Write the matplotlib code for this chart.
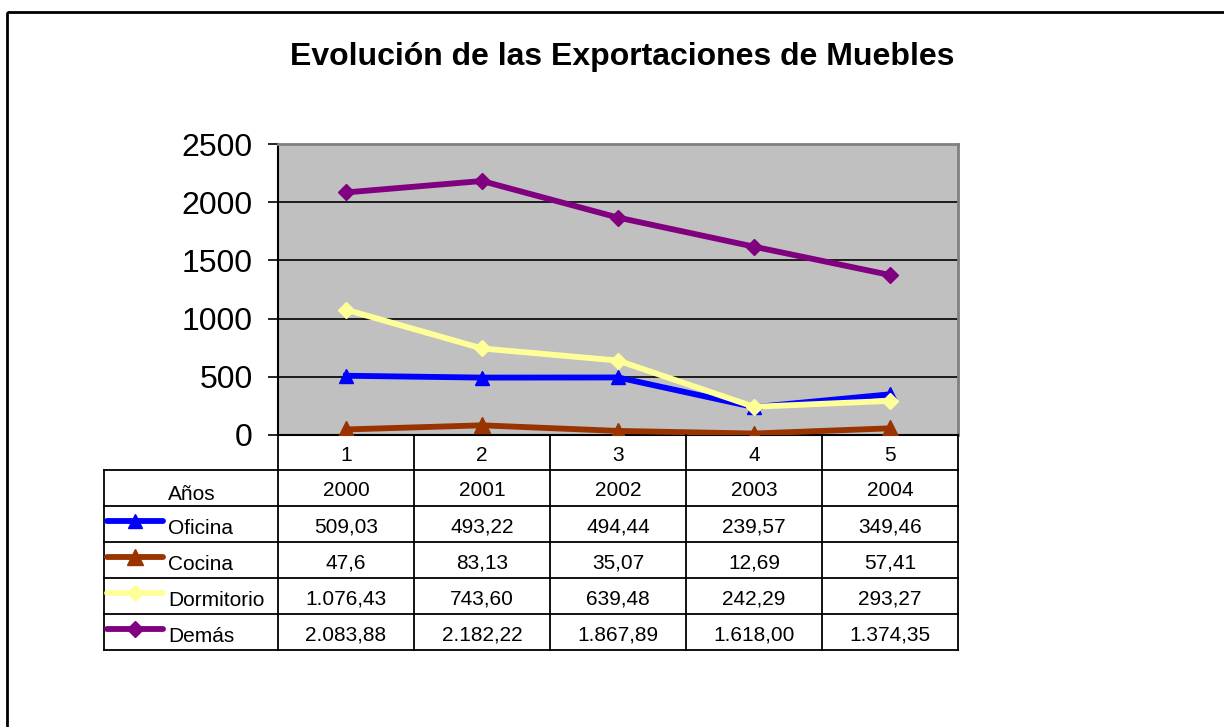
import matplotlib
matplotlib.use('Agg')
import matplotlib.pyplot as plt
from matplotlib.patches import Rectangle

plt.rcParams['font.family'] = ['Liberation Sans', 'DejaVu Sans']

# ── DATA
categories = [1, 2, 3, 4, 5]
years = ['2000', '2001', '2002', '2003', '2004']
series_names = ['Oficina', 'Cocina', 'Dormitorio', 'Demás']
oficina = [509.03, 493.22, 494.44, 239.57, 349.46]
cocina = [47.6, 83.13, 35.07, 12.69, 57.41]
dormitorio = [1076.43, 743.60, 639.48, 242.29, 293.27]
demas = [2083.88, 2182.22, 1867.89, 1618.00, 1374.35]
y_ticks = [0, 500, 1000, 1500, 2000, 2500]

series = [oficina, cocina, dormitorio, demas]
colors = ['#0000FF', '#993300', '#FFFF99', '#800080']
markers = ['^', '^', 'D', 'D']
msizes = [10, 12, 8, 8]


def fmt(v):
    # spanish number format as in the excel table
    if v == round(v, 1) and v < 100 and v != round(v):
        s = f"{v:.1f}"
    else:
        s = f"{v:,.2f}"
    return s.replace(',', 'X').replace('.', ',').replace('X', '.')


W, H = 1224, 727
fig = plt.figure(figsize=(W / 100, H / 100), dpi=100)

# plot area in pixels
L, R, T, B = 278, 958, 144, 435
ax = fig.add_axes([L / W, 1 - B / H, (R - L) / W, (B - T) / H])
ax.set_facecolor('#C0C0C0')
for i, vals in enumerate(series):
    ax.plot(categories, vals, color=colors[i], lw=4.2, marker=markers[i],
            ms=msizes[i], mec=colors[i], mfc=colors[i], zorder=3)
ax.set_xlim(0.5, 5.5)
ax.set_ylim(0, 2500)
ax.set_yticks(y_ticks)
ax.set_yticklabels([str(t) for t in y_ticks], fontsize=23)
ax.set_xticks([])
ax.tick_params(axis='y', length=7.2, width=1.2, pad=11, color='black')
for y in y_ticks[1:-1]:
    ax.axhline(y, color='black', lw=1.2, zorder=1)
ax.spines['left'].set_linewidth(1.5)
ax.spines['bottom'].set_linewidth(1.5)
ax.spines['top'].set_color('#808080')
ax.spines['right'].set_color('#808080')
ax.spines['top'].set_linewidth(2)
ax.spines['right'].set_linewidth(2)

# ── TABLE (overlay axes in pixel units)
ov2 = fig.add_axes([0, 0, 1, 1], zorder=5)
ov2.set_xlim(0, W)
ov2.set_ylim(H, 0)
ov2.axis('off')
ov2.patch.set_alpha(0)

colw = (R - L) / len(categories)
col_x = [L + i * colw for i in range(len(categories) + 1)]
row_h = 36
cat_bottom = 470
tab_left = 104
row_y = [cat_bottom + i * row_h for i in range(len(series) + 2)]
lw = 1.3
fs = 15

# category row (1..5)
for x in col_x:
    ov2.plot([x, x], [B, cat_bottom], color='black', lw=lw)
for i, c in enumerate(categories):
    ov2.text(col_x[i] + colw / 2, (B + cat_bottom) / 2 + 3, str(c),
             ha='center', va='center', fontsize=fs)

# main table grid
for y in row_y:
    ov2.plot([tab_left, R], [y, y], color='black', lw=lw)
for x in [tab_left] + col_x:
    ov2.plot([x, x], [row_y[0], row_y[-1]], color='black', lw=lw)

# header row
lab_x = 168
ov2.text(lab_x, row_y[0] + row_h / 2 + 6, 'Años', ha='left', va='center', fontsize=fs)
for i, yr in enumerate(years):
    ov2.text(col_x[i] + colw / 2, row_y[0] + row_h / 2 + 3, yr,
             ha='center', va='center', fontsize=fs)

# series rows
for r, vals in enumerate(series):
    yc = row_y[r + 1] + row_h / 2
    ov2.plot([107, 163], [yc - 3, yc - 3], color=colors[r], lw=4.2,
             solid_capstyle='round')
    ov2.plot([135], [yc - 3], marker=markers[r], color=colors[r],
             ms=msizes[r], mec=colors[r])
    ov2.text(lab_x, yc + 4, series_names[r], ha='left', va='center', fontsize=fs)
    for i, v in enumerate(vals):
        ov2.text(col_x[i] + colw / 2, yc + 3, fmt(v), ha='center', va='center',
                 fontsize=fs)

# title
fig.text(622 / W, 1 - 57 / H, 'Evolución de las Exportaciones de Muebles',
         ha='center', va='center', fontsize=23, fontweight='bold')

# outer chart border
ov2.add_patch(Rectangle((7, 12), W, H, fill=False, ec='black', lw=2))

fig.savefig('out.png', dpi=100)
